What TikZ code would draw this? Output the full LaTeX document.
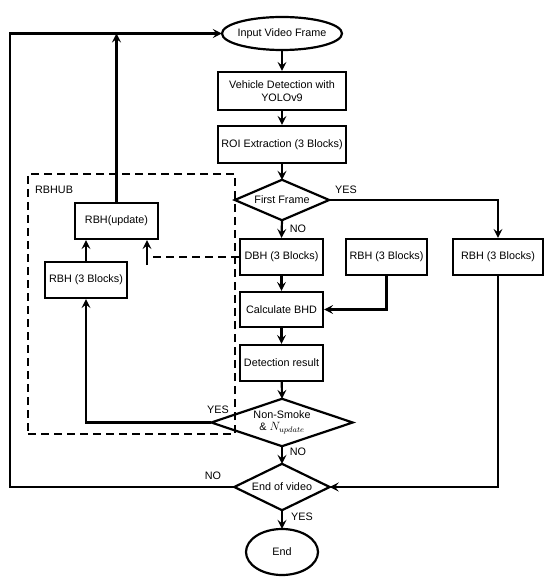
\documentclass[tikz,border=0pt]{standalone}
\usepackage{fontspec}
\setmainfont{Liberation Sans}
\usetikzlibrary{shapes.geometric,arrows.meta}
\begin{document}
\begin{tikzpicture}[x=1pt,y=-1pt,
  every node/.style={font=\fontsize{10.8}{12.5}\selectfont},
  proc/.style={draw,line width=2.2pt,align=center,inner sep=1pt},
  box/.style={inner sep=0pt,align=center},
  lbl/.style={inner sep=1pt},
  shp/.style={line width=2.2pt},
  conn/.style={line width=2.2pt,-{Stealth[length=9pt,width=9pt,inset=3.5pt]}},
  dsh/.style={line width=2.2pt,dash pattern=on 8pt off 5pt}]
\useasboundingbox (0,0) rectangle (550,585);

\node[box,minimum width=120pt,minimum height=33pt] (in) at (282,33.5) {Input Video Frame};
\draw[shp] (in.center) ellipse [x radius=60pt, y radius=16.5pt];
\node[proc,minimum width=128pt,minimum height=38pt] (veh) at (282,91) {Vehicle Detection with\\YOLOv9};
\node[proc,minimum width=128pt,minimum height=37pt] (roi) at (282,144.5) {ROI Extraction (3 Blocks)};
\node[box,minimum width=94pt,minimum height=40pt] (ff) at (282,200) {First Frame};
\draw[shp] (ff.north) -- (ff.east) -- (ff.south) -- (ff.west) -- cycle;
\node[proc,minimum width=83pt,minimum height=36pt] (dbh) at (281.5,257) {DBH (3 Blocks)};
\node[proc,minimum width=81pt,minimum height=36pt] (rbhM) at (386.5,257) {RBH (3 Blocks)};
\node[proc,minimum width=90pt,minimum height=36pt] (rbhR) at (498,257) {RBH (3 Blocks)};
\node[proc,minimum width=83pt,minimum height=35pt] (calc) at (281.5,309.5) {Calculate BHD};
\node[proc,minimum width=83pt,minimum height=36pt] (det) at (281.5,363) {Detection result};
\node[box,minimum width=141pt,minimum height=47pt] (ns) at (282,422.5) {Non-Smoke\\\& {\large$N_{update}$}};
\draw[shp] (ns.north) -- (ns.east) -- (ns.south) -- (ns.west) -- cycle;
\node[box,minimum width=95pt,minimum height=46pt] (eov) at (282,487) {End of video};
\draw[shp] (eov.north) -- (eov.east) -- (eov.south) -- (eov.west) -- cycle;
\node[box,minimum width=72pt,minimum height=46pt] (end) at (282,552) {End};
\draw[shp] (end.center) ellipse [x radius=36pt, y radius=23pt];

\node[draw,dsh,minimum width=207pt,minimum height=260pt] (hub) at (131.5,304) {};
\node[lbl,anchor=north west] (hublbl) at (34,185) {RBHUB};
\node[proc,minimum width=83pt,minimum height=36pt] (upd) at (116.5,221) {RBH(update)};
\node[proc,minimum width=82pt,minimum height=36pt] (rbhL) at (86,280) {RBH (3 Blocks)};

\coordinate (lc) at (10,487);
\coordinate (dk) at (147,257);

\draw[conn] (in) -- (veh);
\draw[conn] (veh) -- (roi);
\draw[conn] (roi) -- (ff.north);
\draw[conn] (ff.east) -| (rbhR.north);
\draw[conn] (ff.south) -- (dbh.north);
\draw[conn] (dbh) -- (calc);
\draw[conn] (rbhM.south) |- (calc.east);
\draw[conn] (calc) -- (det);
\draw[conn] (det) -- (ns.north);
\draw[conn] (ns.south) -- (eov.north);
\draw[conn] (eov.south) -- (end);
\draw[conn] (rbhR.south) |- (eov.east);
\draw[conn] (eov.west) -- (lc) |- (in.west);
\draw[conn] (upd.north) -- (upd.north |- in.west);
\draw[conn] (rbhL.north) -- (rbhL.north |- upd.south);
\draw[conn] (ns.west) -| (rbhL.south);
\draw[dsh] (dbh.west) -- (dk);
\draw[dsh] (dk) -- ++(0,-8);
\draw[conn] ([yshift=-8pt]dk) -- (dk |- upd.south);

\node[lbl] (l1) at (346,190) {YES};
\node[lbl] (l2) at (298,229) {NO};
\node[lbl] (l3) at (218,410) {YES};
\node[lbl] (l4) at (298,452) {NO};
\node[lbl] (l5) at (213,476) {NO};
\node[lbl] (l6) at (302,517) {YES};
\end{tikzpicture}
\end{document}
